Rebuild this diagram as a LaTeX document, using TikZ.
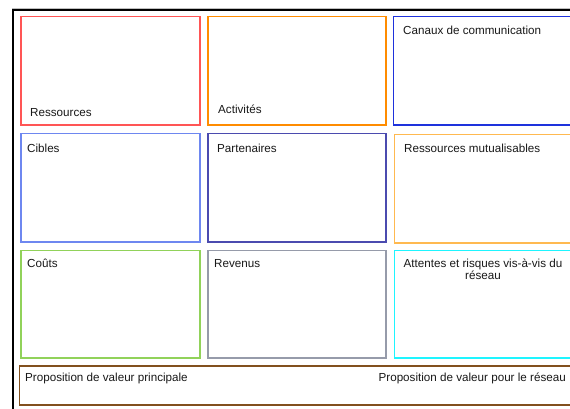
\documentclass[tikz,border=0pt]{standalone}
\usepackage{fontspec}
\setmainfont{Liberation Sans}
\definecolor{cRes}{RGB}{255,85,85}
\definecolor{cAct}{RGB}{255,140,0}
\definecolor{cCan}{RGB}{30,50,220}
\definecolor{cCib}{RGB}{110,135,240}
\definecolor{cPar}{RGB}{75,75,175}
\definecolor{cMut}{RGB}{255,185,80}
\definecolor{cCou}{RGB}{145,210,90}
\definecolor{cRev}{RGB}{150,155,170}
\definecolor{cAtt}{RGB}{30,245,255}
\definecolor{cBrn}{RGB}{130,80,30}
\tikzset{
  zone/.style={line width=1.5bp},
  lbl/.style={anchor=base west, inner sep=0pt, font=\fontsize{11.65bp}{12.5bp}\selectfont, text=black!90},
}
\begin{document}
\begin{tikzpicture}[x=1bp,y=-1bp]
\useasboundingbox (0,0) rectangle (570,408);
\clip (0,0) rectangle (570,408);
\fill[white] (0,0) rectangle (570,408);
% outer frame
\draw[black!25, line width=1bp] (12,8) -- (580,8);
\draw[black, line width=2bp] (12.5,9.5) rectangle (600,430);
% row 1
\draw[zone, draw=cRes] (21,16.5) rectangle (200,125);
\draw[zone, draw=cAct] (208,16.5) rectangle (386,125);
\draw[zone, draw=cCan] (393.5,16.5) rectangle (600,125);
% row 2
\draw[zone, draw=cCib] (21,133.5) rectangle (200,242);
\draw[zone, draw=cPar] (208,133.5) rectangle (386,242);
\draw[zone, draw=cMut] (394.5,134.5) rectangle (600,243);
% row 3
\draw[zone, draw=cCou] (21,250.5) rectangle (200,358);
\draw[zone, draw=cRev] (208,250.5) rectangle (386,358);
\draw[zone, draw=cAtt] (394.5,250.5) rectangle (600,358);
% bottom
\draw[zone, draw=cBrn] (19.5,366) rectangle (600,405);
% labels
\node[lbl] (tRes) at (30,116) {Ressources};
\node[lbl] (tAct) at (218,113) {Activités};
\node[lbl] (tCan) at (403,34) {Canaux de communication};
\node[lbl] (tCib) at (27,152) {Cibles};
\node[lbl] (tPar) at (217,152) {Partenaires};
\node[lbl] (tMut) at (404,152) {Ressources mutualisables};
\node[lbl] (tCou) at (27,267) {Coûts};
\node[lbl] (tRev) at (214,267) {Revenus};
\node[lbl, anchor=base] (tAtt) at (483,267) {Attentes et risques vis-à-vis du};
\node[lbl, anchor=base] (tAtt2) at (483,279) {réseau};
\node[lbl] (tPvp) at (25,381) {Proposition de valeur principale};
\node[lbl, anchor=base east] (tPvr) at (566,381) {Proposition de valeur pour le réseau};
\end{tikzpicture}
\end{document}
